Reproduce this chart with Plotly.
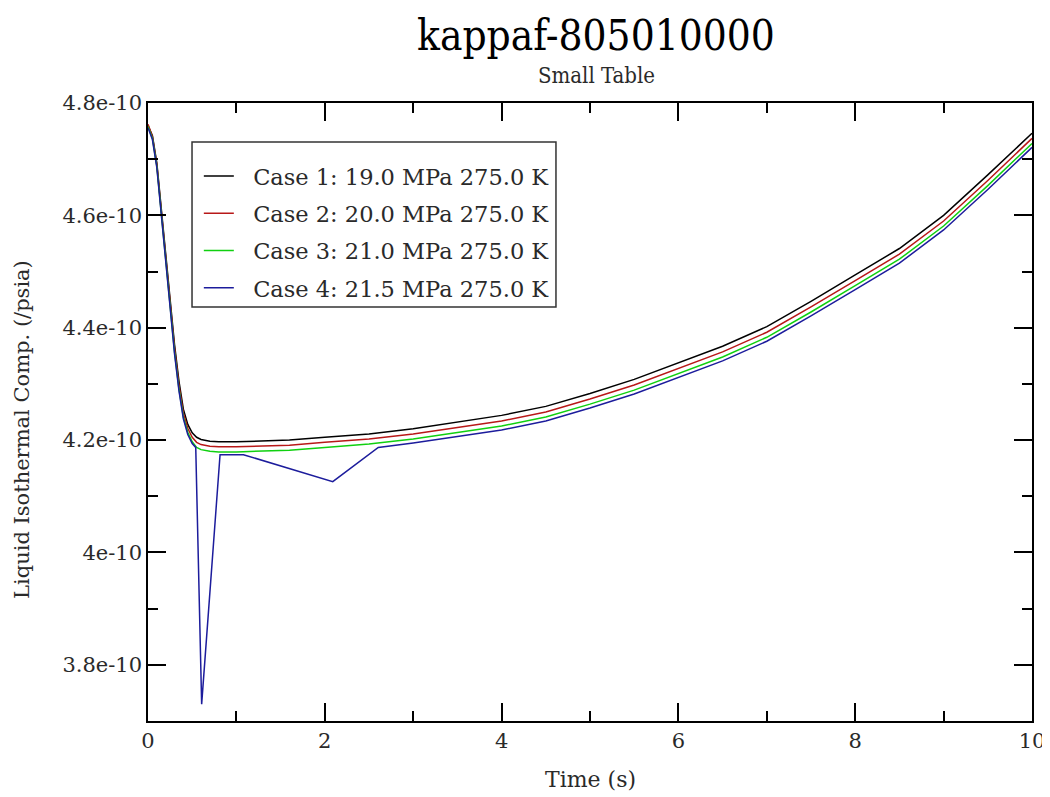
import plotly.graph_objects as go

SCALE = 1e-10

time_a = [0, 0.05, 0.1, 0.15, 0.2, 0.25, 0.3, 0.35, 0.4, 0.45, 0.5, 0.55, 0.6, 0.7, 0.8, 1.0,
          1.3, 1.6, 2.0, 2.5, 3.0, 3.5, 4.0, 4.5, 5.0, 5.5, 6.0, 6.5, 7.0, 7.5, 8.0, 8.5, 9.0,
          9.5, 10.0]

case1 = [4.760, 4.742, 4.693, 4.612, 4.525, 4.450, 4.370, 4.305, 4.255, 4.228, 4.213, 4.205,
         4.201, 4.198, 4.197, 4.197, 4.198, 4.200, 4.205, 4.211, 4.220, 4.232, 4.244, 4.260,
         4.283, 4.308, 4.337, 4.367, 4.402, 4.447, 4.494, 4.541, 4.600, 4.672, 4.746]

case2 = [4.762, 4.740, 4.690, 4.608, 4.520, 4.444, 4.364, 4.298, 4.248, 4.221, 4.205, 4.196,
         4.192, 4.189, 4.188, 4.188, 4.189, 4.191, 4.196, 4.202, 4.211, 4.222, 4.234, 4.250,
         4.273, 4.298, 4.327, 4.357, 4.392, 4.437, 4.484, 4.531, 4.590, 4.662, 4.737]

case3 = [4.758, 4.737, 4.687, 4.604, 4.515, 4.438, 4.357, 4.291, 4.241, 4.214, 4.197, 4.187,
         4.183, 4.180, 4.179, 4.179, 4.180, 4.182, 4.187, 4.193, 4.202, 4.213, 4.225, 4.241,
         4.264, 4.289, 4.318, 4.348, 4.383, 4.428, 4.475, 4.522, 4.581, 4.653, 4.728]

time_b = [0, 0.05, 0.1, 0.15, 0.2, 0.25, 0.3, 0.35, 0.4, 0.45, 0.5, 0.54, 0.607, 0.815, 1.08,
          2.09, 2.605, 3.0, 3.5, 4.0, 4.5, 5.0, 5.5, 6.0, 6.5, 7.0, 7.5, 8.0, 8.5, 9.0, 9.5, 10.0]

case4 = [4.756, 4.735, 4.685, 4.602, 4.512, 4.435, 4.354, 4.288, 4.238, 4.210, 4.194, 4.187,
         3.730, 4.174, 4.174, 4.126, 4.187, 4.195, 4.206, 4.218, 4.234, 4.257, 4.282, 4.311,
         4.341, 4.376, 4.421, 4.468, 4.515, 4.574, 4.646, 4.721]

names = ["Case 1: 19.0 MPa 275.0 K", "Case 2: 20.0 MPa 275.0 K",
         "Case 3: 21.0 MPa 275.0 K", "Case 4: 21.5 MPa 275.0 K"]
colors = ["#000000", "#b81818", "#10d010", "#1c1c9c"]

y_tickvals = [3.8, 4.0, 4.2, 4.4, 4.6, 4.8]
y_ticktext = ["3.8e-10", "4e-10", "4.2e-10", "4.4e-10", "4.6e-10", "4.8e-10"]
y_minor = [3.7, 3.9, 4.1, 4.3, 4.5, 4.7]
x_tickvals = [0, 2, 4, 6, 8, 10]
x_ticktext = ["0", "2", "4", "6", "8", "10"]
x_minor = [1, 3, 5, 7, 9]

series = [(time_a, case1), (time_a, case2), (time_a, case3), (time_b, case4)]

fig = go.Figure()
for i, ((tx, vals), nm, col) in enumerate(zip(series, names, colors)):
    fig.add_trace(go.Scatter(
        x=tx, y=[v * SCALE for v in vals], mode="lines", name="\u00a0\u00a0" + nm,
        line=dict(color=col, width=1.5), legendgroup=f"g{i}"))

FONT = "DejaVu Serif"
COND = "DejaVu Serif Condensed, DejaVu Serif"
TXT = "#2a2a2a"

fig.update_layout(
    width=1050, height=797,
    paper_bgcolor="white", plot_bgcolor="white",
    margin=dict(l=140, r=26, t=95, b=84, autoexpand=False),
    showlegend=True,
    legend=dict(x=0.0575, y=0.916, xanchor="left", yanchor="top",
                borderwidth=0, bgcolor="rgba(0,0,0,0)",
                font=dict(family=FONT, size=22.5, color=TXT),
                tracegroupgap=5, itemwidth=30),
    shapes=[
        dict(type="rect", xref="paper", yref="paper", x0=0.0498, x1=0.4615,
             y0=0.6699, y1=0.9369, line=dict(color="#333333", width=1.5),
             fillcolor="white", layer="above"),
    ],
    annotations=[
        dict(text="kappaf-805010000", xref="paper", yref="paper", x=0.507, y=1.109,
             xanchor="center", yanchor="middle", showarrow=False,
             font=dict(family=COND, size=42, color="#000000")),
        dict(text="Small Table", xref="paper", yref="paper", x=0.507, y=1.044,
             xanchor="center", yanchor="middle", showarrow=False,
             font=dict(family=COND, size=22, color=TXT)),
        dict(text="Liquid Isothermal Comp. (/psia)", xref="paper", yref="paper",
             x=-0.1425, y=0.471, xanchor="center", yanchor="middle", textangle=-90,
             showarrow=False, font=dict(family=FONT, size=21, color=TXT)),
        dict(text="Time (s)", xref="paper", yref="paper", x=0.5, y=-0.094,
             xanchor="center", yanchor="middle", showarrow=False,
             font=dict(family=FONT, size=22, color=TXT)),
    ],
)

fig.update_xaxes(
    range=[0, 10], tickvals=x_tickvals, ticktext=x_ticktext,
    ticks="inside", ticklen=18, tickwidth=1.5, tickcolor="#000000",
    minor=dict(tickvals=x_minor, ticks="inside", ticklen=10, tickwidth=1.5,
               tickcolor="#000000"),
    showline=True, linecolor="#000000", linewidth=1.5, mirror="ticks",
    showgrid=False, zeroline=False, automargin=False,
    tickfont=dict(family=FONT, size=21, color=TXT),
)

fig.update_yaxes(
    range=[3.7 * SCALE, 4.8 * SCALE],
    tickvals=[v * SCALE for v in y_tickvals], ticktext=y_ticktext,
    ticks="inside", ticklen=18, tickwidth=1.5, tickcolor="#000000",
    minor=dict(tickvals=[v * SCALE for v in y_minor], ticks="inside",
               ticklen=10, tickwidth=1.5, tickcolor="#000000"),
    showline=True, linecolor="#000000", linewidth=1.5, mirror="ticks",
    showgrid=False, zeroline=False, automargin=False,
    tickfont=dict(family=FONT, size=21, color=TXT),
)

fig.write_html("out.html")
